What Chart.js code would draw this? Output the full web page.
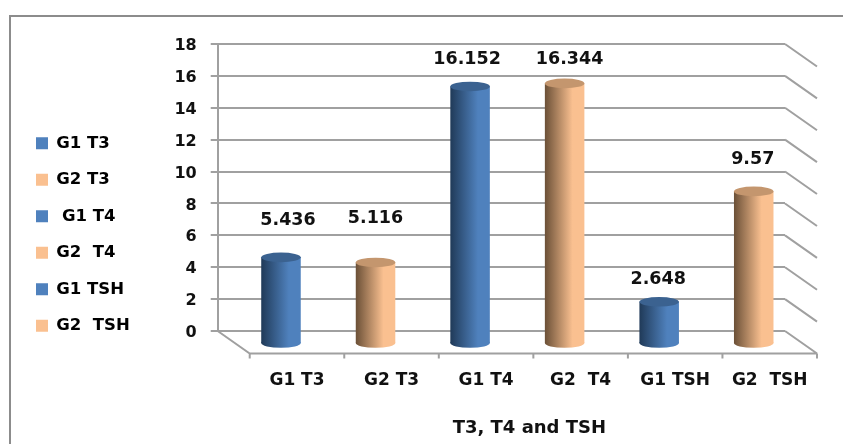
<!DOCTYPE html>
<html>
<head>
<meta charset="utf-8">
<style>html,body{margin:0;padding:0;background:#fff}canvas{display:block}</style>
<script src="https://cdn.jsdelivr.net/npm/chart.js@4/dist/chart.umd.js"></script>
</head>
<body>
<canvas id="c" width="843" height="444"></canvas>
<script>
// Thyroid hormone levels per group
const categories = ['G1 T3', 'G2 T3', 'G1 T4', 'G2  T4', 'G1 TSH', 'G2  TSH'];
const legendLabels = ['G1 T3', 'G2 T3', ' G1 T4', 'G2  T4', 'G1 TSH', 'G2  TSH'];
const values = [5.436, 5.116, 16.152, 16.344, 2.648, 9.57];
const axisTitle = 'T3, T4 and TSH';

const FONT = '"DejaVu Sans", sans-serif';
const BLUE = {light: '#4f81bd', dark: '#203a58', cap: '#3b6290'};
const PEACH = {light: '#fac090', dark: '#6b5037', cap: '#c4966e'};
const GRID = '#a0a0a0';

// Box depth of the pseudo-3D plot: back wall to front edge, and where the bars stand
const DEPTH_X = 32, DEPTH_Y = 22.5, BAR_DX = 16, BAR_DY = 13, CAP_RY = 4.8;
const LABEL_LIFT = [37, 44, 27, 24, 22, 32];
const LABEL_NUDGE = [7, 0, -3, 5, -1, -1];

const tone = i => (i % 2 === 0 ? BLUE : PEACH);

function cylinderGradient(ctx, x, w, c) {
  const g = ctx.createLinearGradient(x - w / 2, 0, x + w / 2, 0);
  g.addColorStop(0, c.dark);
  g.addColorStop(0.7, c.light);
  g.addColorStop(1, c.light);
  return g;
}

const frame = {
  id: 'frame',
  beforeDraw(chart) {
    const {ctx} = chart;
    ctx.save();
    ctx.strokeStyle = '#8c8c8c';
    ctx.lineWidth = 2;
    ctx.beginPath();
    ctx.moveTo(10, 444);
    ctx.lineTo(10, 16);
    ctx.lineTo(843, 16);
    ctx.stroke();
    ctx.restore();
  }
};

// Floor and right-hand wall of the box, then the offset the bars are drawn with
const box = {
  id: 'box',
  beforeDatasetsDraw(chart) {
    const {ctx, chartArea: a, scales: {y}} = chart;
    ctx.save();
    ctx.strokeStyle = GRID;
    ctx.lineWidth = 2;
    ctx.beginPath();
    y.ticks.forEach(t => {
      const py = y.getPixelForValue(t.value);
      ctx.moveTo(a.right, py);
      ctx.lineTo(a.right + DEPTH_X, py + DEPTH_Y);
    });
    const floorY = a.bottom + DEPTH_Y;
    ctx.moveTo(a.left, a.bottom);
    ctx.lineTo(a.left + DEPTH_X, floorY);
    ctx.lineTo(a.right + DEPTH_X, floorY);
    const step = (a.right - a.left) / categories.length;
    for (let i = 0; i <= categories.length; i++) {
      const tx = a.left + DEPTH_X + i * step;
      ctx.moveTo(tx, floorY);
      ctx.lineTo(tx, floorY + 5);
    }
    ctx.stroke();
    ctx.restore();
    ctx.save();
    ctx.translate(BAR_DX, BAR_DY);
  },
  afterDatasetsDraw(chart) {
    const {ctx, chartArea: a} = chart;
    const bars = chart.getDatasetMeta(0).data;
    bars.forEach((bar, i) => {
      const c = tone(i);
      ctx.fillStyle = cylinderGradient(ctx, bar.x, bar.width, c);
      ctx.beginPath();
      ctx.ellipse(bar.x, bar.base, bar.width / 2, CAP_RY, 0, 0, Math.PI * 2);
      ctx.fill();
      ctx.fillStyle = c.cap;
      ctx.beginPath();
      ctx.ellipse(bar.x, bar.y, bar.width / 2, CAP_RY, 0, 0, Math.PI * 2);
      ctx.fill();
    });
    ctx.restore();

    ctx.save();
    ctx.fillStyle = '#111';
    ctx.textAlign = 'center';
    ctx.textBaseline = 'middle';
    ctx.font = 'bold 17.5px ' + FONT;
    bars.forEach((bar, i) => {
      ctx.fillText(String(values[i]), bar.x + BAR_DX + LABEL_NUDGE[i], bar.y + BAR_DY - LABEL_LIFT[i]);
    });
    ctx.font = 'bold 18px ' + FONT;
    ctx.fillText(axisTitle, (a.left + a.right) / 2 + 28, 428);
    ctx.restore();
  }
};

new Chart(document.getElementById('c'), {
  type: 'bar',
  data: {
    labels: categories,
    datasets: [{
      label: 'T3, T4 and TSH',
      data: values,
      borderWidth: 0,
      categoryPercentage: 1,
      barPercentage: 0.418,
      clip: false,
      backgroundColor(ctx) {
        const x = ctx.chart.scales.x;
        const w = (x.right - x.left) / categories.length * 0.418;
        return cylinderGradient(ctx.chart.ctx, x.getPixelForValue(ctx.dataIndex), w, tone(ctx.dataIndex));
      }
    }]
  },
  plugins: [frame, box],
  options: {
    responsive: false,
    animation: false,
    layout: {padding: {left: 16, top: 44, right: 58, bottom: 19}},
    plugins: {
      tooltip: {enabled: false},
      legend: {
        position: 'left',
        labels: {
          boxWidth: 12,
          boxHeight: 12,
          padding: 20,
          color: '#111',
          font: {family: FONT, size: 16.5, weight: 'bold'},
          generateLabels: () => legendLabels.map((text, i) => ({
            text,
            fillStyle: tone(i).light,
            strokeStyle: tone(i).light,
            lineWidth: 0,
            index: i
          }))
        }
      }
    },
    scales: {
      x: {
        grid: {display: false},
        border: {display: false},
        afterFit(s) { s.paddingLeft = 0; s.paddingRight = 0; s.height = 94; },
        ticks: {
          autoSkip: false,
          maxRotation: 0,
          padding: 31,
          labelOffset: DEPTH_X,
          color: '#111',
          font: {family: FONT, size: 17, weight: 'bold'}
        }
      },
      y: {
        min: 0,
        max: 18,
        afterFit(s) { s.paddingTop = 0; s.paddingBottom = 0; s.width = 78; },
        grid: {color: GRID, lineWidth: 2, tickLength: 7},
        border: {color: GRID, width: 2},
        ticks: {
          stepSize: 2,
          padding: 14,
          labelOffset: 2,
          color: '#111',
          font: {family: FONT, size: 16, weight: 'bold'}
        }
      }
    }
  }
});
</script>
</body>
</html>
